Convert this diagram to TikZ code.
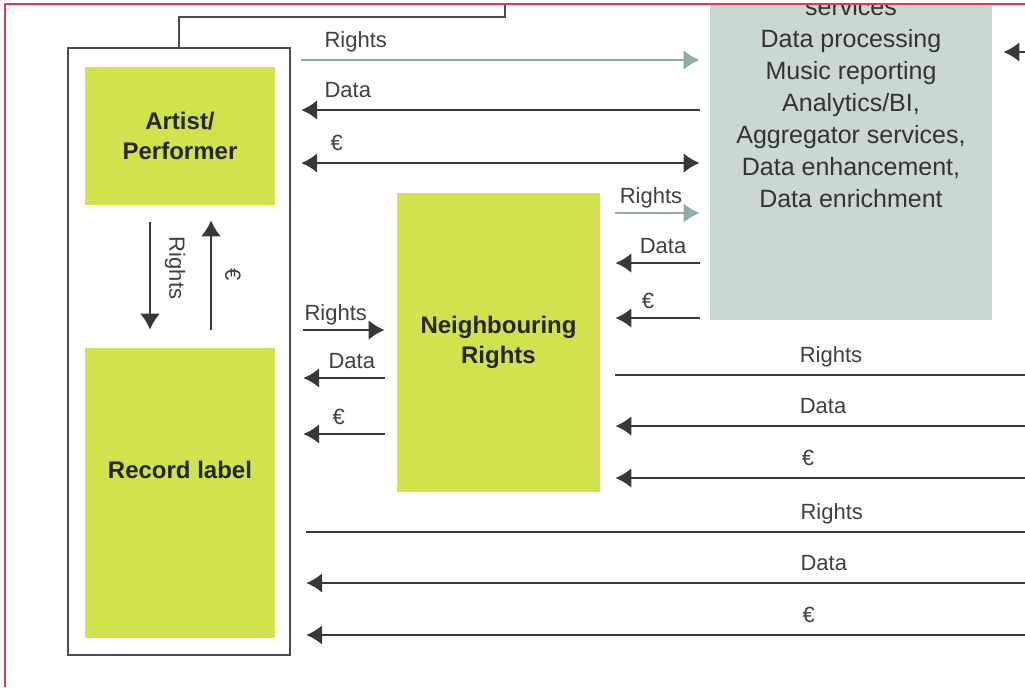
\documentclass[tikz,border=0pt]{standalone}
\usepackage{fontspec}
\setmainfont{Liberation Sans}
\usetikzlibrary{arrows.meta,positioning}
\definecolor{lime}{HTML}{D0E34C}
\definecolor{sage}{HTML}{C9D9D1}
\definecolor{rightsc}{HTML}{8DB0A1}
\definecolor{linec}{HTML}{383838}
\definecolor{cropc}{HTML}{E2385A}
\begin{document}
\begin{tikzpicture}[
		x=0.5pt, y=-0.5pt,
		block/.style={fill=lime, minimum width=95pt, align=center, text=black!85, font=\bfseries\fontsize{12}{15}\selectfont},
		outerbox/.style={draw=black!70, line width=1.2pt, minimum width=111pt, minimum height=303.5pt},
		svcbox/.style={fill=sage, minimum width=141pt, minimum height=190pt},
		svctext/.style={align=center, text=black!80, font=\fontsize{12.5}{16}\selectfont},
		flow/.style={draw=linec, line width=1.4pt},
		rightsflow/.style={draw=rightsc, line width=1.4pt},
		fwd/.style={-{Latex[length=8pt,width=10pt]}},
		back/.style={{Latex[length=8pt,width=10pt]}-},
		both/.style={{Latex[length=8pt,width=10pt]}-{Latex[length=8pt,width=10pt]}},
		lbl/.style={inner sep=0pt, anchor=base west, text=black!75, font=\fontsize{11}{13}\selectfont},
	]
		\path[use as bounding box] (0,0) rectangle (1025,687);
		\begin{scope}
		\clip (5,4) rectangle (1025,687);

		\node[outerbox] (label) at (179,351.5) {};
		\node[block, minimum height=69pt] (artist) at (180,136) {Artist/\\Performer};
		\node[block, minimum height=145pt, text depth=23pt] (record) at (180,493) {Record label};
		\node[block, minimum width=101.5pt, minimum height=149.5pt] (neigh) at (498.5,342.5) {Neighbouring\\Rights};
		\node[svcbox] (svc) at (851,130) {};
		\node[svctext] (svctxt) at (851,103) {services\\Data processing\\Music reporting\\Analytics/BI,\\Aggregator services,\\Data enhancement,\\Data enrichment};

		\coordinate (rim) at (1030,0);
		\coordinate (up) at (505,-10);

		% link out of the top of the frame
		\draw[draw=black!70, line width=1.2pt] (label.north) -- ++(0,15pt) -| (up);

		% artist <-> record label
		\draw[flow, line width=1pt, fwd] ([xshift=-15pt, yshift=-8.5pt]artist.south) -- ([xshift=-15pt, yshift=9pt]record.north);
		\draw[flow, line width=1pt, fwd] ([xshift=15.5pt, yshift=9pt]record.north) -- ([xshift=15.5pt, yshift=-7.5pt]artist.south);
		\node[inner sep=0pt, rotate=-90, text=black!75, font=\fontsize{11}{13}\selectfont] (rlbl) at (175,268) {Rights};
		\node[inner sep=0pt, rotate=-90, text=black!75, font=\fontsize{11}{13}\selectfont] (elbl) at (233,275) {€};

		% frame <-> services
		\draw[rightsflow, fwd] ([xshift=5pt]label.east |- 0,60) -- ([xshift=-5pt]svc.west |- 0,60)
			node[lbl, at start, xshift=11pt, yshift=6.5pt] {Rights};
		\draw[flow, back] ([xshift=5pt]label.east |- 0,110) -- ([xshift=-5pt]svc.west |- 0,110)
			node[lbl, at start, xshift=11pt, yshift=6.5pt] {Data};
		\draw[flow, both] ([xshift=5pt]label.east |- 0,163) -- ([xshift=-5pt]svc.west |- 0,163)
			node[lbl, at start, xshift=14pt, yshift=6.5pt] {€};

		% neighbouring rights <-> services
		\draw[rightsflow, fwd] ([xshift=7.5pt]neigh.east |- 0,213) -- ([xshift=-5pt]svc.west |- 0,213)
			node[lbl, at start, xshift=1.5pt, yshift=5pt] {Rights};
		\draw[flow, back] ([xshift=7.5pt]neigh.east |- 0,263) -- ([xshift=-5pt]svc.west |- 0,263)
			node[lbl, at start, xshift=11.5pt, yshift=5pt] {Data};
		\draw[flow, back] ([xshift=7.5pt]neigh.east |- 0,318) -- ([xshift=-5pt]svc.west |- 0,318)
			node[lbl, at start, xshift=12.5pt, yshift=5pt] {€};

		% frame <-> neighbouring rights
		\draw[flow, fwd] ([xshift=6pt]label.east |- 0,330) -- ([xshift=-6pt]neigh.west |- 0,330)
			node[lbl, at start, xshift=0pt, yshift=5pt] {Rights};
		\draw[flow, back] ([xshift=6pt]label.east |- 0,378) -- ([xshift=-6pt]neigh.west |- 0,378)
			node[lbl, at start, xshift=12pt, yshift=5pt] {Data};
		\draw[flow, back] ([xshift=6pt]label.east |- 0,434) -- ([xshift=-6pt]neigh.west |- 0,434)
			node[lbl, at start, xshift=14pt, yshift=5pt] {€};

		% neighbouring rights <-> off to the right
		\draw[flow] ([xshift=7.5pt]neigh.east |- 0,375) -- (rim |- 0,375)
			node[lbl, at start, xshift=91.5pt, yshift=6.5pt] {Rights};
		\draw[flow, back] ([xshift=7.5pt]neigh.east |- 0,426) -- (rim |- 0,426)
			node[lbl, at start, xshift=91.5pt, yshift=6.5pt] {Data};
		\draw[flow, back] ([xshift=7.5pt]neigh.east |- 0,478) -- (rim |- 0,478)
			node[lbl, at start, xshift=92.5pt, yshift=6.5pt] {€};

		% frame <-> off to the right
		\draw[flow] ([xshift=7.5pt]label.east |- 0,532) -- (rim |- 0,532)
			node[lbl, at start, xshift=246.5pt, yshift=6.5pt] {Rights};
		\draw[flow, back] ([xshift=7.5pt]label.east |- 0,583) -- (rim |- 0,583)
			node[lbl, at start, xshift=246.5pt, yshift=6.5pt] {Data};
		\draw[flow, back] ([xshift=7.5pt]label.east |- 0,635) -- (rim |- 0,635)
			node[lbl, at start, xshift=247.5pt, yshift=6.5pt] {€};

		% services <-> off to the right
		\draw[flow, back] ([xshift=5.5pt]svc.east |- 0,52) -- (rim |- 0,52);
		\draw[flow, back] ([xshift=10pt]svc.east |- 0,-3) -- (rim |- 0,-3);
		\end{scope}

		\draw[cropc, line width=1pt] (5,687) -- (5,4) -- (1025,4);
	\end{tikzpicture}
\end{document}
